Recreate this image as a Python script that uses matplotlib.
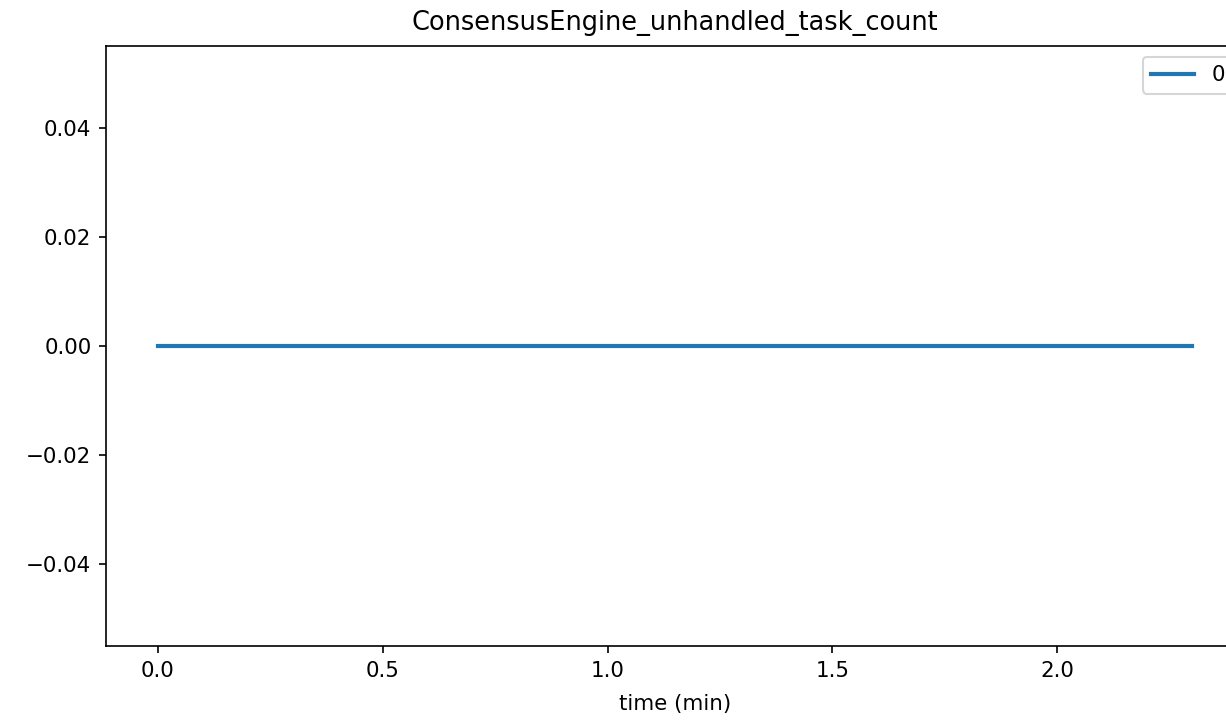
import matplotlib
matplotlib.use('Agg')
import matplotlib.pyplot as plt

# series "0": the metric stays at zero for the whole run
time_min = [0.0, 2.3]
task_count = [0, 0]
series_label = '0'
title = 'ConsensusEngine_unhandled_task_count'

DPI = 150
W, H = 1226, 721

plt.rcParams['font.size'] = 10.25

fig = plt.figure(figsize=(W / DPI, H / DPI), dpi=DPI)
# the original was cropped on the right, so the axes run past the figure edge
ax = fig.add_axes([106 / W, (H - 646) / H, (1244 - 106) / W, 600 / H])
ax.plot(time_min, task_count, lw=2, label=series_label)
ax.set_title(title, pad=7.5)
ax.set_xlabel('time (min)', labelpad=6.5)
ax.legend(loc='upper right')

fig.savefig('out.png', dpi=DPI)
